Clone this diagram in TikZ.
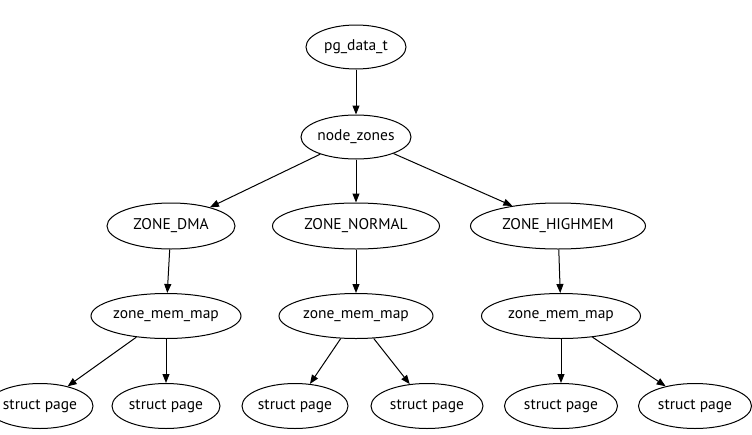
\documentclass[tikz,border=0pt]{standalone}
\usepackage{fontspec}
\setmainfont{PT Sans}
\usetikzlibrary{shapes.geometric,arrows.meta}
\begin{document}
\begin{tikzpicture}[x=1pt,y=-1pt,
  nd/.style={draw,ellipse,line width=1pt,inner sep=0pt,font=\fontsize{15.5}{17}\selectfont},
  arr/.style={line width=1pt,-{Triangle[length=9pt,width=7pt]}}]
\useasboundingbox (0,0) rectangle (752,434);
\clip (0,0) rectangle (752,434);
\node[nd,minimum width=100pt,minimum height=44pt] (pg) at (356,47) {pg\_data\_t};
\node[nd,minimum width=110pt,minimum height=44pt] (nz) at (356,137) {node\_zones};
\node[nd,minimum width=128pt,minimum height=46pt] (dma) at (171,226) {ZONE\_DMA};
\node[nd,minimum width=167pt,minimum height=46pt] (norm) at (356,226) {ZONE\_NORMAL};
\node[nd,minimum width=175pt,minimum height=46pt] (high) at (558,226) {ZONE\_HIGHMEM};
\node[nd,minimum width=150pt,minimum height=45pt] (m1) at (166,316) {zone\_mem\_map};
\node[nd,minimum width=154pt,minimum height=45pt] (m2) at (356,316) {zone\_mem\_map};
\node[nd,minimum width=159pt,minimum height=45pt] (m3) at (561,316) {zone\_mem\_map};
\node[nd,minimum width=106pt,minimum height=45pt] (p1) at (40,406) {struct page};
\node[nd,minimum width=108pt,minimum height=45pt] (p2) at (166,406) {struct page};
\node[nd,minimum width=106pt,minimum height=45pt] (p3) at (295,406) {struct page};
\node[nd,minimum width=112pt,minimum height=45pt] (p4) at (427,406) {struct page};
\node[nd,minimum width=113pt,minimum height=45pt] (p5) at (561,406) {struct page};
\node[nd,minimum width=113pt,minimum height=45pt] (p6) at (695,406) {struct page};
\draw[arr] (pg) -- (nz);
\draw[arr] (nz) -- (dma);
\draw[arr] (nz) -- (norm);
\draw[arr] (nz) -- (high);
\draw[arr] (dma) -- (m1);
\draw[arr] (norm) -- (m2);
\draw[arr] (high) -- (m3);
\draw[arr] (m1) -- (p1);
\draw[arr] (m1) -- (p2);
\draw[arr] (m2) -- (p3);
\draw[arr] (m2) -- (p4);
\draw[arr] (m3) -- (p5);
\draw[arr] (m3) -- (p6);
\end{tikzpicture}
\end{document}
